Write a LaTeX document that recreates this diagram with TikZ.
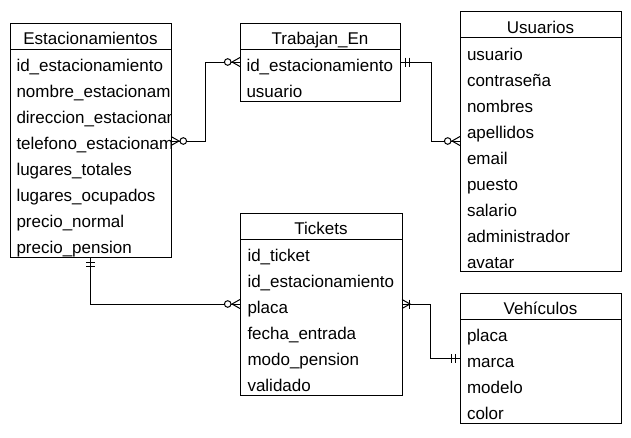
\documentclass[tikz,border=0pt]{standalone}
\usepackage{fontspec}
\setmainfont{Liberation Sans}
\newcommand\erfont{\fontsize{17pt}{20pt}\selectfont}
% markers: entity edge at origin, connector leaves towards +x
\newcommand\markzeromany[2]{\begin{scope}[shift={#1},rotate=#2]
  \draw (0,-4.5) -- (8,0) -- (0,4.5);
  \draw[fill=white] (12.3,0) circle[radius=3.3pt];
\end{scope}}
\newcommand\markonemany[2]{\begin{scope}[shift={#1},rotate=#2]
  \draw (0,-4.5) -- (8,0) -- (0,4.5);
  \draw (7.5,-4.5) -- (7.5,4.5);
\end{scope}}
\newcommand\markone[2]{\begin{scope}[shift={#1},rotate=#2]
  \draw (5,-4.5) -- (5,4.5);
  \draw (9,-4.5) -- (9,4.5);
\end{scope}}
\begin{document}
\begin{tikzpicture}[x=1pt,y=-1pt,line width=1pt,
  tbl/.style={draw,rectangle,inner sep=0pt,outer sep=0pt,anchor=north west},
  fld/.style={anchor=base west,inner sep=0pt,font=\erfont},
  hdr/.style={anchor=base,inner sep=0pt,font=\erfont},
  conn/.style={draw,line width=1pt}]
\useasboundingbox (0,0) rectangle (631,437);

% ---------- Estacionamientos ----------
\node[tbl,minimum width=161pt,minimum height=234pt] (est) at (10,23) {};
\draw ([yshift=-26pt]est.north west) -- ([yshift=-26pt]est.north east);
\node[hdr] (esth) at (90.5,44.5) {Estacionamientos};
\begin{scope}
\clip (10,49) rectangle (170.5,257);
\foreach \t [count=\i] in {id\_estacionamiento,nombre\_estacionamiento,direccion\_estacionamiento,telefono\_estacionamiento,lugares\_totales,lugares\_ocupados,precio\_normal,precio\_pension}
  \node[fld] (est-\i) at (16,{49+26*\i-3.5}) {\t};
\end{scope}

% ---------- Trabajan_En ----------
\node[tbl,minimum width=160pt,minimum height=78pt] (tra) at (240,23) {};
\draw ([yshift=-26pt]tra.north west) -- ([yshift=-26pt]tra.north east);
\node[hdr] (trah) at (320,44.5) {Trabajan\_En};
\foreach \t [count=\i] in {id\_estacionamiento,usuario}
  \node[fld] (tra-\i) at (246,{49+26*\i-3.5}) {\t};

% ---------- Usuarios ----------
\node[tbl,minimum width=161pt,minimum height=260pt] (usu) at (460,11.5) {};
\draw ([yshift=-26pt]usu.north west) -- ([yshift=-26pt]usu.north east);
\node[hdr] (usuh) at (540.5,33) {Usuarios};
\foreach \t [count=\i] in {usuario,contraseña,nombres,apellidos,email,puesto,salario,administrador,avatar}
  \node[fld] (usu-\i) at (466.5,{37.5+26*\i-3.5}) {\t};

% ---------- Tickets ----------
\node[tbl,minimum width=162pt,minimum height=182pt] (tic) at (240,213) {};
\draw ([yshift=-26pt]tic.north west) -- ([yshift=-26pt]tic.north east);
\node[hdr] (tich) at (321,234.5) {Tickets};
\foreach \t [count=\i] in {id\_ticket,id\_estacionamiento,placa,fecha\_entrada,modo\_pension,validado}
  \node[fld] (tic-\i) at (247,{239+26*\i-3.5}) {\t};

% ---------- Vehículos ----------
\node[tbl,minimum width=161pt,minimum height=130pt] (veh) at (460,293) {};
\draw ([yshift=-26pt]veh.north west) -- ([yshift=-26pt]veh.north east);
\node[hdr] (vehh) at (540.5,314.5) {Vehículos};
\foreach \t [count=\i] in {placa,marca,modelo,color}
  \node[fld] (veh-\i) at (466.5,{319+26*\i-3.5}) {\t};

% ---------- connectors ----------
% Estacionamientos -- Trabajan_En
\draw[conn] (est.east |- 0,141) -- (205,141) |- (tra.west |- 0,62);
\markzeromany{(est.east |- 0,141)}{0}
\markzeromany{(tra.west |- 0,62)}{180}
% Trabajan_En -- Usuarios
\draw[conn] (tra.east |- 0,62) -- (431,62) |- (usu.west |- 0,141);
\markone{(tra.east |- 0,62)}{0}
\markzeromany{(usu.west |- 0,141)}{180}
% Estacionamientos -- Tickets
\draw[conn] (est.south -| 90,0) |- (tic.west |- 0,304);
\markone{(est.south -| 90,0)}{-90}
\markzeromany{(tic.west |- 0,304)}{180}
% Tickets -- Vehículos
\draw[conn] (tic.east |- 0,304) -- (430,304) |- (veh.west |- 0,358);
\markonemany{(tic.east |- 0,304)}{0}
\markone{(veh.west |- 0,358)}{180}
\end{tikzpicture}
\end{document}
